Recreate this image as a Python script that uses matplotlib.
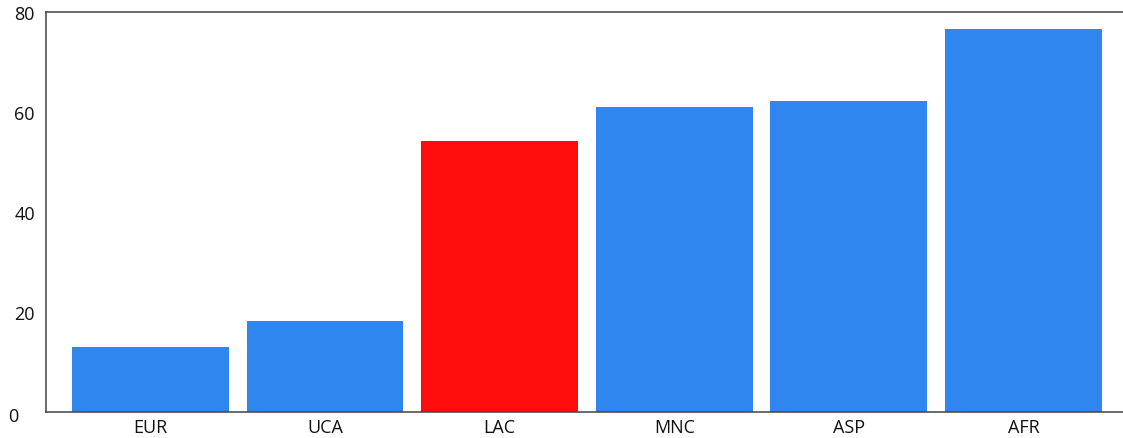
import matplotlib.pyplot as plt
import matplotlib.transforms as mtransforms

regions = ['EUR', 'UCA', 'LAC', 'MNC', 'ASP', 'AFR']
values = [13.1, 18.2, 54.3, 61.0, 62.2, 76.6]
highlight = 'LAC'
y_ticks = [0, 20, 40, 60, 80]

blue = '#2e86ee'
red = '#ff0d0d'

plt.rcParams['font.family'] = ['Open Sans', 'DejaVu Sans']

fig = plt.figure(figsize=(11.23, 4.39), dpi=100)
ax = fig.add_axes([46 / 1123, 1 - 413 / 439, 1 - 46 / 1123, 400 / 439])

colors = [red if r == highlight else blue for r in regions]
ax.bar(range(len(regions)), values, width=0.898, color=colors)

ax.set_xlim(-0.598, 5.57)
ax.set_ylim(0, 80)
ax.set_xticks(range(len(regions)))
ax.set_xticklabels(regions, fontsize=13, color='#111111')
ax.set_yticks(y_ticks)
ax.set_yticklabels([str(t) for t in y_ticks], fontsize=13, color='#111111')
ax.tick_params(length=0)
ax.tick_params(axis='x', pad=4)
ax.tick_params(axis='y', pad=8)

for side in ['left', 'bottom', 'top']:
    ax.spines[side].set_color('#444444')
    ax.spines[side].set_linewidth(1.1)
ax.spines['right'].set_visible(False)

# the zero label sits further left in the original
zero_label = ax.get_yticklabels()[0]
zero_label.set_transform(zero_label.get_transform() +
                         mtransforms.ScaledTranslation(-0.17, -0.02, fig.dpi_scale_trans))

fig.savefig('out.png', dpi=100)
